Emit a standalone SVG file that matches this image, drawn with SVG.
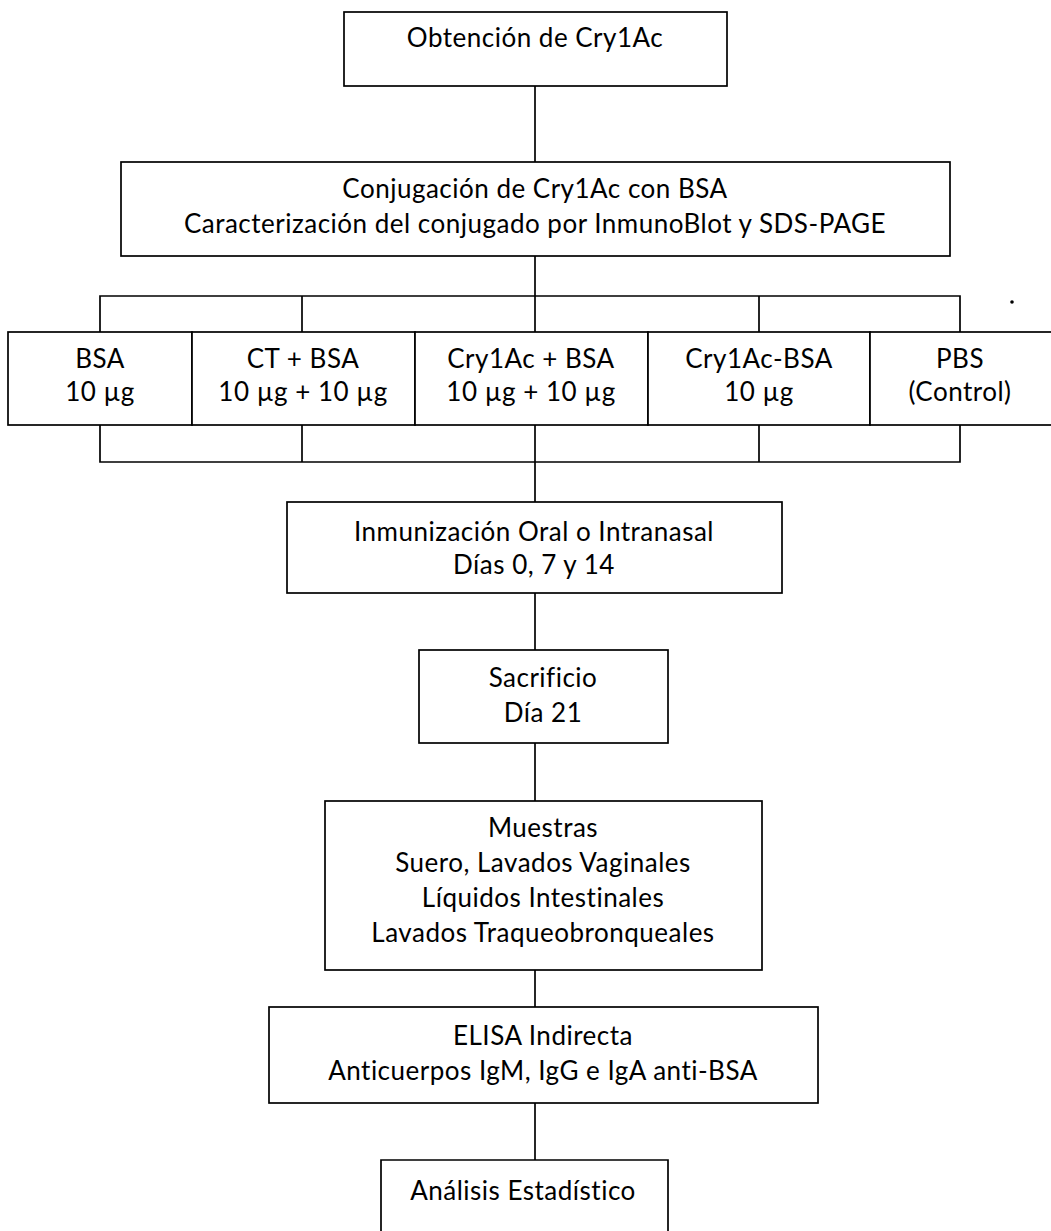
<svg xmlns="http://www.w3.org/2000/svg" width="1051" height="1231" viewBox="0 0 1051 1231">
<style>
.box{fill:#fff;stroke:#000;stroke-width:1.7}
.ln{fill:none;stroke:#000;stroke-width:1.7}
text{font-family:Lato,"Open Sans","Liberation Sans",sans-serif;font-size:26px;letter-spacing:0.5px;fill:#000;text-anchor:middle}
</style>
<rect width="1051" height="1231" fill="#fff"/>
<g id="connectors">
<line class="ln" x1="535" y1="86" x2="535" y2="162"/>
<line class="ln" x1="535" y1="256" x2="535" y2="332"/>
<polyline class="ln" points="100,332 100,296 960,296 960,332"/>
<line class="ln" x1="302" y1="296" x2="302" y2="332"/>
<line class="ln" x1="759" y1="296" x2="759" y2="332"/>
<polyline class="ln" points="100,425 100,462 960,462 960,425"/>
<line class="ln" x1="302" y1="425" x2="302" y2="462"/>
<line class="ln" x1="759" y1="425" x2="759" y2="462"/>
<line class="ln" x1="535" y1="425" x2="535" y2="502"/>
<line class="ln" x1="535" y1="593" x2="535" y2="650"/>
<line class="ln" x1="535" y1="743" x2="535" y2="801"/>
<line class="ln" x1="535" y1="970" x2="535" y2="1007"/>
<line class="ln" x1="535" y1="1103" x2="535" y2="1160"/>
</g>
<g id="n1"><rect class="box" x="344" y="12" width="383" height="74"/><text x="535" y="47">Obtención de Cry1Ac</text></g>
<g id="n2"><rect class="box" x="121" y="162" width="829" height="94"/><text x="535" y="198">Conjugación de Cry1Ac con BSA</text><text x="535" y="233">Caracterización del conjugado por InmunoBlot y SDS-PAGE</text></g>
<g id="g1"><rect class="box" x="8" y="332" width="184" height="93"/><text x="100" y="368">BSA</text><text x="100" y="401">10 µg</text></g>
<g id="g2"><rect class="box" x="192" y="332" width="223" height="93"/><text x="303" y="368">CT + BSA</text><text x="303" y="401">10 µg + 10 µg</text></g>
<g id="g3"><rect class="box" x="415" y="332" width="233" height="93"/><text x="531" y="368">Cry1Ac + BSA</text><text x="531" y="401">10 µg + 10 µg</text></g>
<g id="g4"><rect class="box" x="648" y="332" width="222" height="93"/><text x="759" y="368">Cry1Ac-BSA</text><text x="759" y="401">10 µg</text></g>
<g id="g5"><rect class="box" x="870" y="332" width="190" height="93"/><text x="960" y="368">PBS</text><text x="960" y="401">(Control)</text></g>
<g id="n3"><rect class="box" x="287" y="502" width="495" height="91"/><text x="534" y="541">Inmunización Oral o Intranasal</text><text x="534" y="574">Días 0, 7 y 14</text></g>
<g id="n4"><rect class="box" x="419" y="650" width="249" height="93"/><text x="543" y="687">Sacrificio</text><text x="543" y="722">Día 21</text></g>
<g id="n5"><rect class="box" x="325" y="801" width="437" height="169"/><text x="543" y="837">Muestras</text><text x="543" y="872">Suero, Lavados Vaginales</text><text x="543" y="907">Líquidos Intestinales</text><text x="543" y="942">Lavados Traqueobronqueales</text></g>
<g id="n6"><rect class="box" x="269" y="1007" width="549" height="96"/><text x="543" y="1045">ELISA Indirecta</text><text x="543" y="1080">Anticuerpos IgM, IgG e IgA anti-BSA</text></g>
<g id="n7"><polyline class="box" points="381,1235 381,1160 668,1160 668,1235"/><text x="523" y="1200">Análisis Estadístico</text></g>
<circle cx="1012" cy="302" r="1.8" fill="#000"/>
</svg>
